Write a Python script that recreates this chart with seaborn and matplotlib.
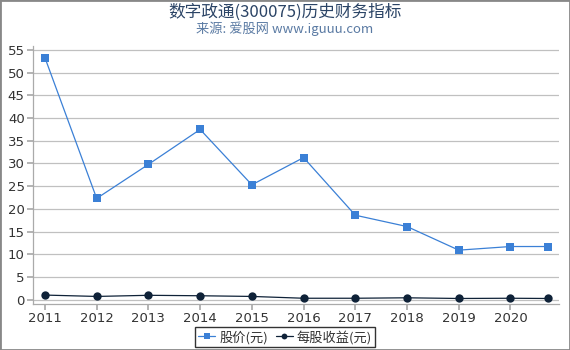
import matplotlib
matplotlib.use("Agg")
import matplotlib.pyplot as plt
import seaborn as sns
import pandas as pd

years = [2011, 2012, 2013, 2014, 2015, 2016, 2017, 2018, 2019, 2020, 2020.72]
price = [53.3, 22.3, 29.8, 37.5, 25.3, 31.3, 18.6, 16.1, 10.9, 11.7, 11.7]
eps = [1.0, 0.7, 0.95, 0.85, 0.7, 0.3, 0.3, 0.4, 0.25, 0.3, 0.25]
xticks = [2011, 2012, 2013, 2014, 2015, 2016, 2017, 2018, 2019, 2020]
yticks = list(range(0, 56, 5))

sns.set_theme(style="white")
plt.rcParams['font.family'] = ['Noto Sans CJK SC', 'DejaVu Sans']

fig = plt.figure(figsize=(5.7, 3.5), dpi=100)
ax = fig.add_axes([0.058, 0.131, 0.922, 0.739])

df = pd.DataFrame({"year": years, "price": price, "eps": eps})
sns.lineplot(data=df, x="year", y="price", ax=ax, color="#3b80d6", lw=0.9,
             marker="s", markersize=6, markeredgewidth=0, label="股价(元)")
sns.lineplot(data=df, x="year", y="eps", ax=ax, color="#0f2238", lw=0.9,
             marker="o", markersize=6, markeredgewidth=0, label="每股收益(元)")

ax.set_xlim(2010.77, 2020.93)
ax.set_ylim(-1.0, 56)
ax.set_xticks(xticks)
ax.set_xticklabels([str(x) for x in xticks], fontsize=9.5, color="#333333", family=['DejaVu Sans'])
ax.set_yticks(yticks)
ax.set_yticklabels([str(y) for y in yticks], fontsize=9.5, color="#333333", family=['DejaVu Sans'])
ax.set_xlabel("")
ax.set_ylabel("")
ax.yaxis.grid(True, color="#c0c0c0", lw=0.9)
ax.xaxis.grid(False)
for s in ["top", "right"]:
    ax.spines[s].set_visible(False)
for s in ["left", "bottom"]:
    ax.spines[s].set_color("#aaaaaa")
    ax.spines[s].set_linewidth(0.9)
ax.tick_params(axis="both", which="both", length=4, color="#aaaaaa", pad=2,
               bottom=True, left=True)

leg = fig.legend(*ax.get_legend_handles_labels(), loc="center", bbox_to_anchor=(0.5, 0.037),
                 ncol=2, frameon=True,
                 fontsize=9.5, handlelength=1.3, handletextpad=0.3, columnspacing=0.6,
                 borderpad=0.25, fancybox=False, markerscale=0.7)
ax.get_legend().remove()
leg.get_frame().set_edgecolor("#000000")
leg.get_frame().set_linewidth(1.0)
for t in leg.get_texts():
    t.set_color("#333333")

fig.text(0.5, 0.965, "数字政通(300075)历史财务指标", ha="center", va="center",
         fontsize=12, color="#2b4466")
fig.text(0.5, 0.918, "来源: 爱股网 www.iguuu.com", ha="center", va="center",
         fontsize=9.5, color="#5a7aa3")

border = plt.Rectangle((0, 0), 1, 1, transform=fig.transFigure, fill=False,
                       edgecolor="#888888", lw=2)
fig.patches.append(border)

fig.savefig("out.png", dpi=100)
